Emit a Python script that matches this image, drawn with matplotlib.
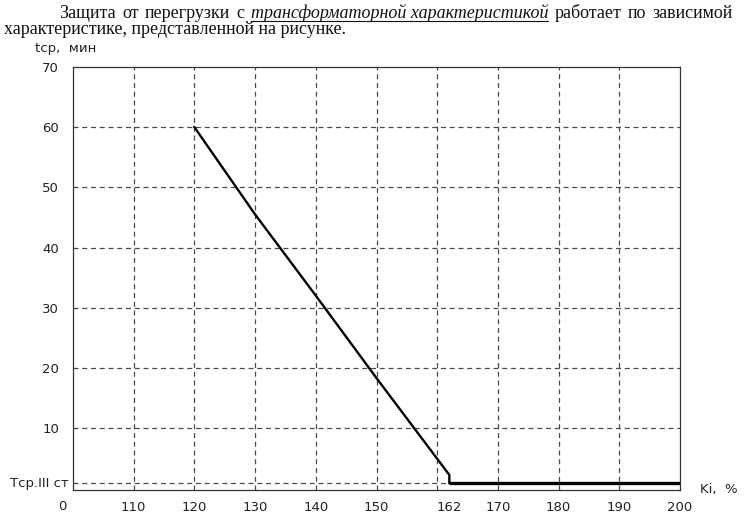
import matplotlib
matplotlib.use('Agg')
import matplotlib.pyplot as plt

# ---- data ----
x_points = [120, 130, 140, 150, 162]
t_points = [60, 45.5, 32, 18.3, 2.2]
x_step = 162
t_stage3 = 0.86
x_end = 200
xtick_vals = [110, 120, 130, 140, 150, 162, 170, 180, 190, 200]
xtick_labels = ["110", "120", "130", "140", "150", "162", "170", "180", "190", "200"]
xgrid_vals = [110, 120, 130, 140, 150, 160, 170, 180, 190]
ytick_vals = [10, 20, 30, 40, 50, 60, 70]
ygrid_vals = [10, 20, 30, 40, 50, 60]
tcp_label = "Тср.III ст"
y_label = "tср,  мин"
x_label = "Ki,  %"
title_line1 = [("Защита", False), ("от", False), ("перегрузки", False), ("с", False),
               ("трансформаторной характеристикой", True),
               ("работает", False), ("по", False), ("зависимой", False)]
title_line2 = "характеристике, представленной на рисунке."

W, H = 750, 525
fig = plt.figure(figsize=(7.5, 5.25), dpi=100)
fig.patch.set_facecolor('white')
ax = fig.add_axes([73 / W, 1 - 490 / H, 607 / W, 423 / H])
ax.set_xlim(100, 200)
ax.set_ylim(-0.3, 70)

gcol = '#4a4a4a'
dash = (0, (4, 3))
for v in xgrid_vals:
    ax.axvline(v, color=gcol, lw=0.9, ls=dash, zorder=1)
for v in ygrid_vals:
    ax.axhline(v, color=gcol, lw=0.9, ls=dash, zorder=1)
ax.plot([100, x_step], [t_stage3, t_stage3], color=gcol, lw=0.9, ls=dash, zorder=1)

xs = x_points + [x_step]
ys = t_points + [t_stage3]
ax.plot(xs, ys, color='black', lw=1.7, solid_joinstyle='miter', zorder=3)
ax.plot([x_step, x_end], [t_stage3, t_stage3], color='black', lw=2.4, zorder=3, solid_capstyle='butt')

for s in ax.spines.values():
    s.set_color('#333333')
    s.set_linewidth(0.9)

tick_font = dict(family='DejaVu Sans', size=9.5, color='#222222')
ax.set_xticks(xtick_vals)
ax.set_xticklabels(xtick_labels, **tick_font)
ax.set_yticks(ytick_vals)
ax.set_yticklabels([str(v) for v in ytick_vals], **tick_font)
ax.tick_params(axis='x', length=0, pad=8)
ax.tick_params(axis='y', length=0, pad=10)

ax.text(-0.008, t_stage3, tcp_label, transform=ax.get_yaxis_transform(), ha='right', va='center',
        family='DejaVu Sans', size=9.5, color='#222222')
fig.text(62 / W, 1 - 500 / H, "0", ha='center', va='top', **tick_font)
fig.text(700 / W, 1 - 490 / H, x_label, ha='left', va='center', family='DejaVu Sans', size=9.5, color='#222222')
fig.text(35 / W, 1 - 52 / H, y_label, ha='left', va='baseline', family='DejaVu Sans', size=9.5, color='#222222')

# ---- justified title ----
renderer = fig.canvas.get_renderer()
tfont = dict(family='Liberation Serif', size=13, color='#111111')
x0, x1 = 59, 733
base1 = 1 - 17.5 / H
objs = []
for word, ital in title_line1:
    t = fig.text(0, base1, word, ha='left', va='baseline', style='italic' if ital else 'normal', **tfont)
    objs.append((t, ital))
widths = [t.get_window_extent(renderer).width for t, _ in objs]
gap = (x1 - x0 - sum(widths)) / (len(objs) - 1)
xc = x0
for (t, ital), w in zip(objs, widths):
    t.set_x(xc / W)
    if ital:
        fig.add_artist(plt.Line2D([xc / W, (xc + w) / W], [base1 - 3 / H, base1 - 3 / H],
                                  color='#111111', lw=0.8, transform=fig.transFigure))
    xc += w + gap
fig.text(4 / W, 1 - 34 / H, title_line2, ha='left', va='baseline', **tfont)

fig.savefig('out.png', dpi=100, facecolor='white')
